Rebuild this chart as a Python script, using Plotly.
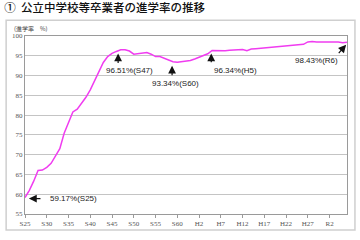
import plotly.graph_objects as go

years = list(range(1950, 2025))
rates = [
    59.17, 61.0, 63.3, 66.0, 66.1, 66.8, 67.8, 69.6, 71.5, 75.4,
    78.0, 80.8, 81.5, 82.9, 84.5, 86.4, 88.7, 91.4, 93.3, 94.8,
    95.6, 96.1, 96.51, 96.5, 96.2, 95.4, 95.5, 95.6, 95.8, 95.4,
    94.8, 94.8, 94.3, 94.0, 93.5, 93.34, 93.5, 93.7, 93.8, 94.2,
    94.6, 95.0, 95.5, 96.34, 96.3, 96.2, 96.3, 96.4, 96.5, 96.6,
    96.6, 96.3, 96.7, 96.8, 96.9, 97.0, 97.1, 97.2, 97.3, 97.4,
    97.5, 97.6, 97.7, 97.8, 97.9, 98.5, 98.6, 98.5, 98.5, 98.5,
    98.6, 98.5, 98.5, 98.3, 98.43,
]
tick_years = list(range(1950, 2021, 5))
tick_labels = ["S25", "S30", "S35", "S40", "S45", "S50", "S55", "S60",
               "H2", "H7", "H12", "H17", "H22", "H27", "R2"]
y_ticks = list(range(55, 101, 5))

fig = go.Figure()
fig.add_trace(go.Scatter(x=years, y=rates, mode="lines",
                         line=dict(color="#f03cf0", width=1.5),
                         hoverinfo="skip", showlegend=False))

afont = dict(family="Liberation Sans, Arial", size=8, color="#222")
arrow_kw = dict(showarrow=True, arrowhead=2, arrowsize=1.3, arrowwidth=1.2,
                arrowcolor="#111", axref="x", ayref="y", text="")
ann = [
    dict(x=1950.9, y=58.9, ax=1953.9, ay=58.9, **arrow_kw),
    dict(x=1955.2, y=58.9, text="59.17%(S25)", showarrow=False, xanchor="left", font=afont),
    dict(x=1971.4, y=95.6, ax=1971.4, ay=92.8, **arrow_kw),
    dict(x=1973.9, y=91.2, text="96.51%(S47)", showarrow=False, font=afont),
    dict(x=1983.8, y=92.5, ax=1983.8, ay=89.7, **arrow_kw),
    dict(x=1984.5, y=87.9, text="93.34%(S60)", showarrow=False, font=afont),
    dict(x=1992.8, y=95.6, ax=1992.8, ay=93.0, **arrow_kw),
    dict(x=1993.0, y=91.2, text="96.34%(H5)", showarrow=False, xanchor="left", font=afont),
    dict(x=2023.8, y=97.8, ax=2021.8, ay=95.3, **arrow_kw),
    dict(x=2022.4, y=93.9, text="98.43%(R6)", showarrow=False, xanchor="right", font=afont),
    dict(x=-0.04, y=1.04, xref="paper", yref="paper", text="(進学率　%)", showarrow=False,
         xanchor="left", yanchor="middle",
         font=dict(family="Noto Sans CJK JP", size=6, color="#444")),
]

fig.update_layout(
    width=360, height=240,
    margin=dict(l=23, r=13, t=36, b=12),
    paper_bgcolor="white", plot_bgcolor="white",
    title=dict(text="①  公立中学校等卒業者の進学率の推移", x=0.012, xanchor="left",
               y=0.967, yanchor="middle",
               font=dict(family="Noto Sans CJK JP", size=11.5, color="#111", weight=500)),
    annotations=ann,
    shapes=[dict(type="rect", xref="paper", yref="paper", x0=-0.0586, x1=1.0247,
                 y0=-0.09, y1=1.0885, line=dict(color="#cfcfcf", width=1.5),
                 layer="below")],
    xaxis=dict(range=[1950, 2024], tickvals=tick_years, ticktext=tick_labels,
               showgrid=False, zeroline=False, showline=True, mirror=True,
               linecolor="#9a9a9a", linewidth=1, ticks="outside", ticklen=3,
               tickcolor="#9a9a9a",
               tickfont=dict(family="Liberation Serif", size=7, color="#555")),
    yaxis=dict(range=[55, 100], tickvals=y_ticks, showgrid=True,
               gridcolor="#c4c4c4", gridwidth=1, zeroline=False, showline=True,
               mirror=True, linecolor="#9a9a9a", linewidth=1, ticks="",
               tickfont=dict(family="Liberation Serif", size=7, color="#555")),
)

fig.write_html("out.html")
